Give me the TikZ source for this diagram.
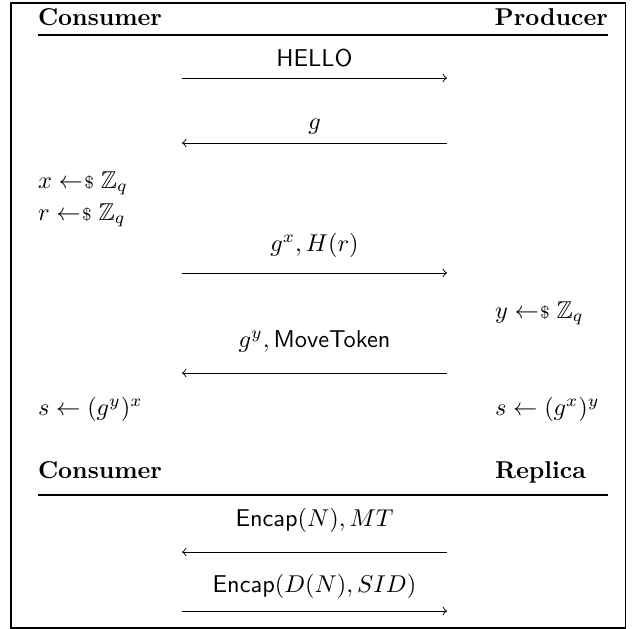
\documentclass[tikz,border=0pt]{standalone}
\usepackage{amsmath,amssymb}
\newcommand{\smp}{\mathrel{\leftarrow\mkern-4mu{\scriptstyle\$}}}
\begin{document}
\begin{tikzpicture}[x=0.411pt,y=-0.411pt,
  txt/.style={inner sep=0pt,outer sep=0pt},
  lft/.style={txt,anchor=base west},
  rgt/.style={txt,anchor=base east},
  mid/.style={txt,anchor=base},
  hd/.style={font=\bfseries},
  rulestyle/.style={line width=0.5pt},
  msg/.style={line width=0.4pt,->},
  frame/.style={line width=0.5pt}]
\useasboundingbox (0,0) rectangle (632,629);
\draw[frame] (11,3) rectangle (625.5,628);
% block 1 header
\node[lft,hd] (c1) at (38,25) {Consumer};
\node[rgt,hd] (p1) at (608,25) {Producer};
\coordinate (r1l) at (38,35);
\coordinate (r1r) at (608,35);
\draw[rulestyle] (r1l) -- (r1r);
% messages
\node[mid] (m1) at (314.5,66) {\textsf{HELLO}};
\coordinate (a1l) at (182,78); \coordinate (a1r) at (447,78);
\draw[msg] (a1l) -- (a1r);
\node[mid] (m2) at (314.5,129) {$g$};
\coordinate (a2l) at (182,143); \coordinate (a2r) at (447,143);
\draw[msg] (a2r) -- (a2l);
\node[lft] (x) at (38,188) {$x \smp \mathbb{Z}_q$};
\node[lft] (r) at (38,220) {$r \smp \mathbb{Z}_q$};
\node[mid] (m3) at (314.5,251.5) {$g^x, H(r)$};
\coordinate (a3l) at (182,273); \coordinate (a3r) at (447,273);
\draw[msg] (a3l) -- (a3r);
\node[lft] (y) at (495,318) {$y \smp \mathbb{Z}_q$};
\node[mid] (m4) at (314.5,347.5) {$g^y, \textsf{MoveToken}$};
\coordinate (a4l) at (182,373); \coordinate (a4r) at (447,373);
\draw[msg] (a4r) -- (a4l);
\node[lft] (s1) at (38,415) {$s \gets (g^y)^x$};
\node[lft] (s2) at (495,415) {$s \gets (g^x)^y$};
% block 2 header
\node[lft,hd] (c2) at (38,478) {Consumer};
\node[lft,hd] (rp) at (495,478) {Replica};
\coordinate (r2l) at (38,495);
\coordinate (r2r) at (608,495);
\draw[rulestyle] (r2l) -- (r2r);
\node[mid] (m5) at (314.5,526.5) {$\textsf{Encap}(N), MT$};
\coordinate (a5l) at (182,552); \coordinate (a5r) at (447,552);
\draw[msg] (a5r) -- (a5l);
\node[mid] (m6) at (314.5,592) {$\textsf{Encap}(D(N), SID)$};
\coordinate (a6l) at (182,611); \coordinate (a6r) at (447,611);
\draw[msg] (a6l) -- (a6r);
\end{tikzpicture}
\end{document}
